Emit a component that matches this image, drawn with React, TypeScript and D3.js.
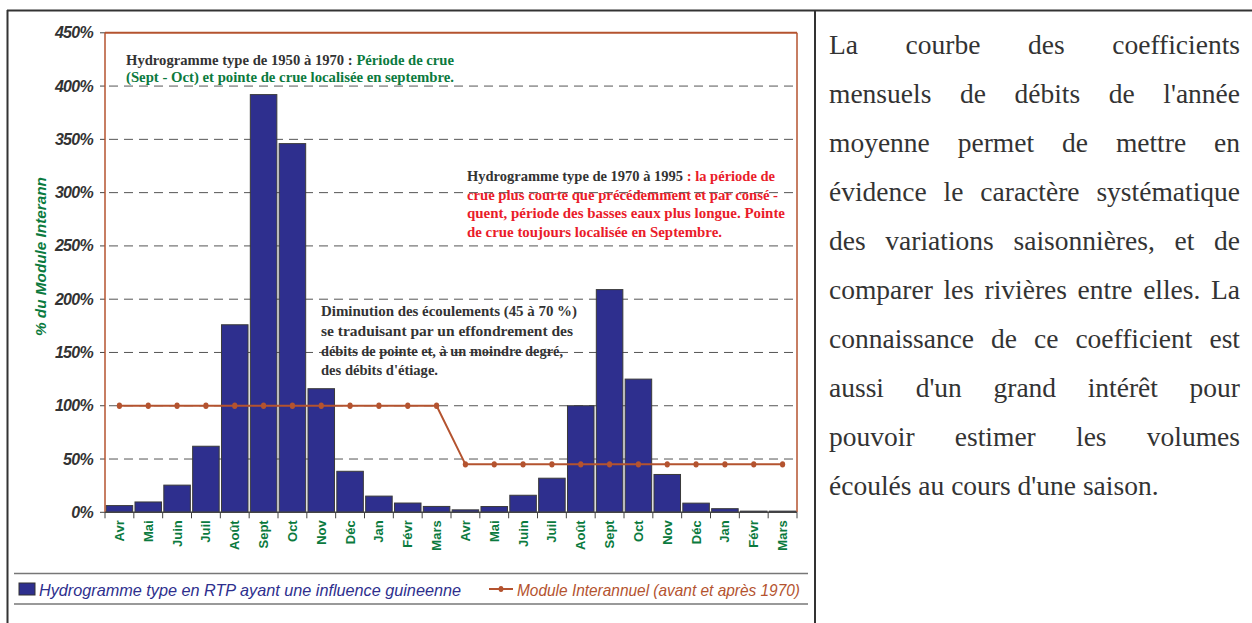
import React from "react";
import * as d3 from "d3";

const months = ["Avr","Mai","Juin","Juil","Août","Sept","Oct","Nov","Déc","Jan","Févr","Mars","Avr","Mai","Juin","Juil","Août","Sept","Oct","Nov","Déc","Jan","Févr","Mars"];
const hydroValues = [6.3, 9.7, 25.5, 62, 176, 392, 346, 116, 38.5, 15.2, 8.7, 5.5, 2.3, 5.4, 16, 32, 100, 209, 125, 35.5, 8.6, 3.4, 1.1, 1.1];
const moduleValues = [100, 100, 100, 100, 100, 100, 100, 100, 100, 100, 100, 100, 45, 45, 45, 45, 45, 45, 45, 45, 45, 45, 45, 45];
const yTicks = [0, 50, 100, 150, 200, 250, 300, 350, 400, 450];
const yTitle = "% du Module Interann";
const legendBar = "Hydrogramme type en RTP ayant une influence guineenne";
const legendLine = "Module Interannuel (avant et après 1970)";
const paragraphLines = [
  "La courbe des coefficients",
  "mensuels de débits de l'année",
  "moyenne permet de mettre en",
  "évidence le caractère systématique",
  "des variations saisonnières, et de",
  "comparer les rivières entre elles. La",
  "connaissance de ce coefficient est",
  "aussi d'un grand intérêt pour",
  "pouvoir estimer les volumes",
  "écoulés au cours d'une saison.",
];

const BLUE = "#2e2f8e";
const BROWN = "#b4532f";
const GREEN = "#0b7a3e";
const RED = "#ea1c2a";
const DARK = "#333333";

let ctx: CanvasRenderingContext2D | null = null;
function measure(text: string, font: string) {
  if (!ctx) ctx = document.createElement("canvas").getContext("2d");
  ctx!.font = font;
  return ctx!.measureText(text).width;
}

export default function App() {
  const left = 105, right = 797, top = 32.8, bottom = 512.3;
  const x = d3.scaleBand<number>().domain(d3.range(months.length)).range([left, right]).paddingInner(0.08).paddingOuter(0.04);
  const y = d3.scaleLinear().domain([0, 450]).range([bottom, top]);
  const step = x.step();
  const cx = (i: number) => (x(i) as number) + x.bandwidth() / 2;
  const line = d3.line<number>().x((_, i) => cx(i)).y((d) => y(d));

  const pFont = "27.5px 'Liberation Serif'";
  const pLeft = 829, pRight = 1240, pTop = 54, pStep = 49;

  const annFont = { fontFamily: "'Liberation Serif', serif", fontWeight: "bold" as const, fontSize: 14 };

  return (
    <svg width={1252} height={623} style={{ position: "absolute", left: 0, top: 0, background: "#fff" }}>
      {/* outer frame */}
      <line x1={7} x2={1252} y1={10.5} y2={10.5} stroke={DARK} strokeWidth={2} />
      <line x1={7.5} x2={7.5} y1={10} y2={623} stroke={DARK} strokeWidth={2} />
      <line x1={815} x2={815} y1={10} y2={623} stroke={DARK} strokeWidth={2} />

      {/* gridlines */}
      {yTicks.filter((t) => t > 0 && t < 450).map((t) => (
        <line key={t} x1={left + 4} x2={right} y1={y(t)} y2={y(t)} stroke="#555" strokeWidth={1} strokeDasharray="9,6" />
      ))}
      {/* y ticks + labels */}
      {yTicks.map((t) => (
        <g key={"yt" + t}>
          <line x1={left - 5} x2={left} y1={y(t)} y2={y(t)} stroke="#444" strokeWidth={1} />
          <text x={93} y={y(t) + 5.5} textAnchor="end" fontFamily="'Liberation Sans', Arial, sans-serif" fontWeight="bold" fontStyle="italic" fontSize={16} letterSpacing={-0.7} fill={DARK}>{t + "%"}</text>
        </g>
      ))}
      <text transform={`translate(45.5,336) rotate(-90)`} fontFamily="'Liberation Sans', Arial, sans-serif" fontWeight="bold" fontStyle="italic" fontSize={15.3} fill={GREEN}>{yTitle}</text>

      {/* bars */}
      {hydroValues.map((v, i) => (
        <rect key={"b" + i} x={x(i)} y={y(v)} width={x.bandwidth()} height={bottom - y(v)} fill={BLUE} stroke="#3a3a3a" strokeWidth={1} />
      ))}

      {/* plot frame */}
      <line x1={left} x2={left} y1={top} y2={bottom} stroke={BROWN} strokeWidth={1.5} />
      <line x1={left} x2={right} y1={top} y2={top} stroke={BROWN} strokeWidth={2} />
      <line x1={right} x2={right} y1={top} y2={bottom} stroke={BROWN} strokeWidth={1.5} />
      <line x1={left} x2={right} y1={bottom} y2={bottom} stroke="#444" strokeWidth={1.5} />
      {d3.range(months.length + 1).map((i) => (
        <line key={"xt" + i} x1={left + i * step} x2={left + i * step} y1={bottom} y2={bottom + 6} stroke="#444" strokeWidth={1} />
      ))}

      {/* module line */}
      <path d={line(moduleValues) as string} fill="none" stroke={BROWN} strokeWidth={2} />
      {moduleValues.map((v, i) => (
        <ellipse key={"m" + i} cx={cx(i)} cy={y(v)} rx={2.6} ry={3.2} fill={BROWN} />
      ))}

      {/* x labels */}
      {months.map((m, i) => (
        <text key={"xl" + i} transform={`translate(${cx(i) + 4.5},${bottom + 8}) rotate(-90)`} textAnchor="end" fontFamily="'Liberation Sans', Arial, sans-serif" fontWeight="bold" fontSize={13} fill={GREEN}>{m}</text>
      ))}

      {/* annotations */}
      <text x={126} y={65} {...annFont} textLength={328} lengthAdjust="spacingAndGlyphs">
        <tspan fill={DARK}>Hydrogramme type de 1950 à 1970 : </tspan>
        <tspan fill={GREEN}>Période de crue</tspan>
      </text>
      <text x={126} y={81.5} {...annFont} fill={GREEN} textLength={328} lengthAdjust="spacingAndGlyphs">(Sept - Oct) et pointe de crue localisée en septembre.</text>

      <text x={467} y={181} {...annFont} textLength={308} lengthAdjust="spacingAndGlyphs">
        <tspan fill={DARK}>Hydrogramme type de 1970 à 1995</tspan>
        <tspan fill={RED}> : la période de</tspan>
      </text>
      <text x={467} y={199.5} {...annFont} fill={RED} textLength={311} lengthAdjust="spacingAndGlyphs">crue plus courte que précédemment et par consé -</text>
      <text x={467} y={218} {...annFont} fill={RED} textLength={318} lengthAdjust="spacingAndGlyphs">quent, période des basses eaux plus longue. Pointe</text>
      <text x={467} y={236.5} {...annFont} fill={RED} textLength={255} lengthAdjust="spacingAndGlyphs">de crue toujours localisée en Septembre.</text>

      <text x={321} y={316} {...annFont} fill={DARK} textLength={256} lengthAdjust="spacingAndGlyphs">Diminution des écoulements (45 à 70 %)</text>
      <text x={321} y={336} {...annFont} fill={DARK} textLength={252} lengthAdjust="spacingAndGlyphs">se traduisant par un effondrement des</text>
      <text x={321} y={356} {...annFont} fill={DARK} textLength={242} lengthAdjust="spacingAndGlyphs">débits de pointe et, à un moindre degré,</text>
      <text x={321} y={375} {...annFont} fill={DARK} textLength={117} lengthAdjust="spacingAndGlyphs">des débits d'étiage.</text>

      {/* legend */}
      <line x1={14} x2={808} y1={573.5} y2={573.5} stroke="#777" strokeWidth={1.5} />
      <line x1={14} x2={808} y1={604} y2={604} stroke="#999" strokeWidth={2} />
      <rect x={19} y={583} width={16} height={12} fill={BLUE} stroke="#333" strokeWidth={1} />
      <text x={39} y={595.5} fontFamily="'Liberation Sans', Arial, sans-serif" fontStyle="italic" fontSize={17} fill={BLUE} textLength={422} lengthAdjust="spacingAndGlyphs">{legendBar}</text>
      <line x1={489} x2={513} y1={589} y2={589} stroke={BROWN} strokeWidth={2} />
      <ellipse cx={501} cy={589} rx={2.4} ry={3} fill={BROWN} />
      <text x={517} y={595.5} fontFamily="'Liberation Sans', Arial, sans-serif" fontStyle="italic" fontSize={17} fill={BROWN} textLength={283} lengthAdjust="spacingAndGlyphs">{legendLine}</text>

      {/* paragraph */}
      {paragraphLines.map((ln, li) => {
        const words = ln.split(" ");
        const yy = pTop + li * pStep;
        const last = li === paragraphLines.length - 1;
        const widths = words.map((w) => measure(w, pFont));
        const total = d3.sum(widths);
        const gap = last || words.length < 2 ? measure(" ", pFont) : (pRight - pLeft - total) / (words.length - 1);
        let xx = pLeft;
        return (
          <g key={"p" + li}>
            {words.map((w, wi) => {
              const el = (
                <text key={wi} x={xx} y={yy} fontFamily="'Liberation Serif', 'Times New Roman', serif" fontSize={27.5} fill={DARK}>{w}</text>
              );
              xx += widths[wi] + gap;
              return el;
            })}
          </g>
        );
      })}
    </svg>
  );
}
